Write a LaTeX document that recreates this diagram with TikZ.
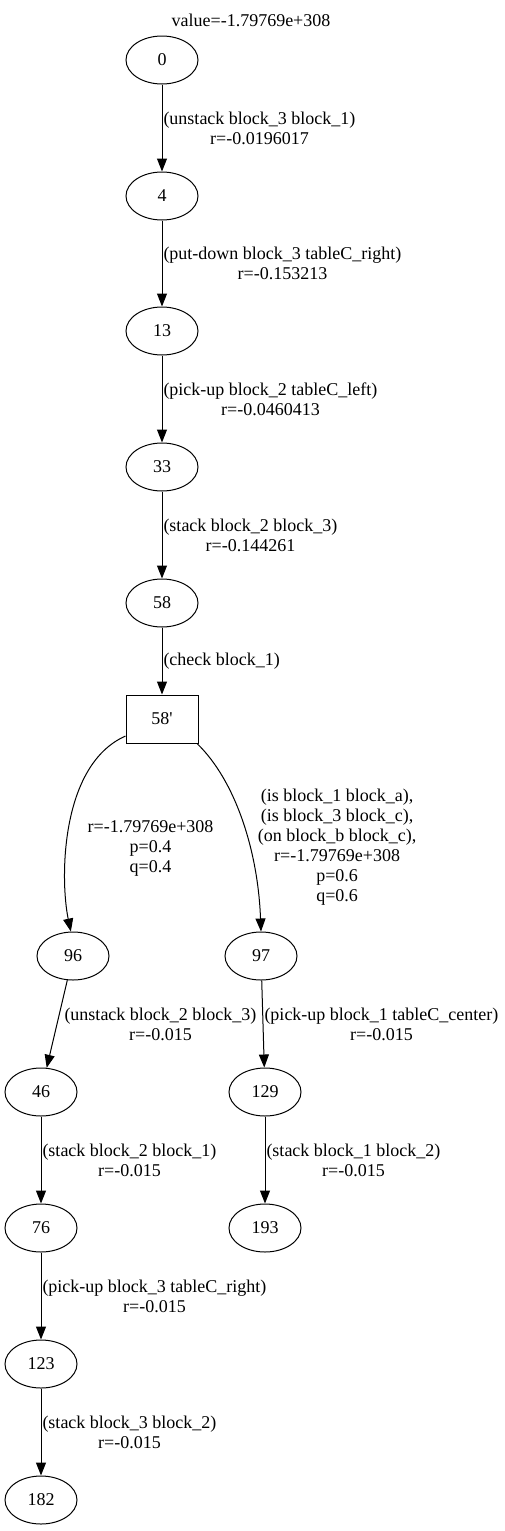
\documentclass[tikz,border=0pt]{standalone}
\usepackage{fontspec}
\setmainfont{Liberation Serif}
\usetikzlibrary{shapes.geometric,arrows.meta}
\tikzset{
  state/.style={draw,ellipse,line width=1pt,minimum width=72pt,minimum height=48pt,inner sep=0pt},
  chance/.style={draw,rectangle,line width=1pt,minimum width=72pt,minimum height=48pt,inner sep=0pt},
  edge/.style={line width=1pt,-{Triangle[length=13pt,width=10pt]}},
  lbl/.style={align=center,anchor=west,inner sep=1pt}
}
\begin{document}
\begin{tikzpicture}[x=1pt,y=-1pt,font=\fontsize{18}{20}\selectfont]
  \useasboundingbox (0,0) rectangle (504,1531);
  \node (title) at (251,20) {value=-1.79769e+308};
  \foreach \n/\x/\y in {0/162/60,4/162/196,13/162/331,33/162/467,58/162/603,96/73/956,97/261/956,46/41/1092,129/265/1092,76/41/1228,193/265/1228,123/41/1364,182/41/1500}
    \node[state] (n\n) at (\x,\y) {\n};
  \node[chance] (n58p) at (162,719) {58\textquotesingle};
  \draw[edge] (n0) -- node[lbl] {(unstack block\_3 block\_1)\\r=-0.0196017} (n4);
  \draw[edge] (n4) -- node[lbl] {(put-down block\_3 tableC\_right)\\r=-0.153213} (n13);
  \draw[edge] (n13) -- node[lbl] {(pick-up block\_2 tableC\_left)\\r=-0.0460413} (n33);
  \draw[edge] (n33) -- node[lbl] {(stack block\_2 block\_3)\\r=-0.144261} (n58);
  \draw[edge] (n58) -- node[lbl] {(check block\_1)} (n58p);
  \draw[edge] (n58p.205) .. controls (60,765) and (60,880) .. (n96.95)
    node[pos=0.5,align=center,xshift=81pt,yshift=-23pt] {r=-1.79769e+308\\p=0.4\\q=0.4};
  \draw[edge] (n58p.-35) .. controls (235,780) and (258,850) .. (n97.north)
    node[pos=0.5,align=center,xshift=95pt,yshift=-27pt] {(is block\_1 block\_a),\\(is block\_3 block\_c),\\(on block\_b block\_c),\\r=-1.79769e+308\\p=0.6\\q=0.6};
  \draw[edge] (n96) -- node[lbl,xshift=6pt] {(unstack block\_2 block\_3)\\r=-0.015} (n46);
  \draw[edge] (n97) -- node[lbl] {(pick-up block\_1 tableC\_center)\\r=-0.015} (n129);
  \draw[edge] (n46) -- node[lbl] {(stack block\_2 block\_1)\\r=-0.015} (n76);
  \draw[edge] (n129) -- node[lbl] {(stack block\_1 block\_2)\\r=-0.015} (n193);
  \draw[edge] (n76) -- node[lbl] {(pick-up block\_3 tableC\_right)\\r=-0.015} (n123);
  \draw[edge] (n123) -- node[lbl] {(stack block\_3 block\_2)\\r=-0.015} (n182);
\end{tikzpicture}
\end{document}
